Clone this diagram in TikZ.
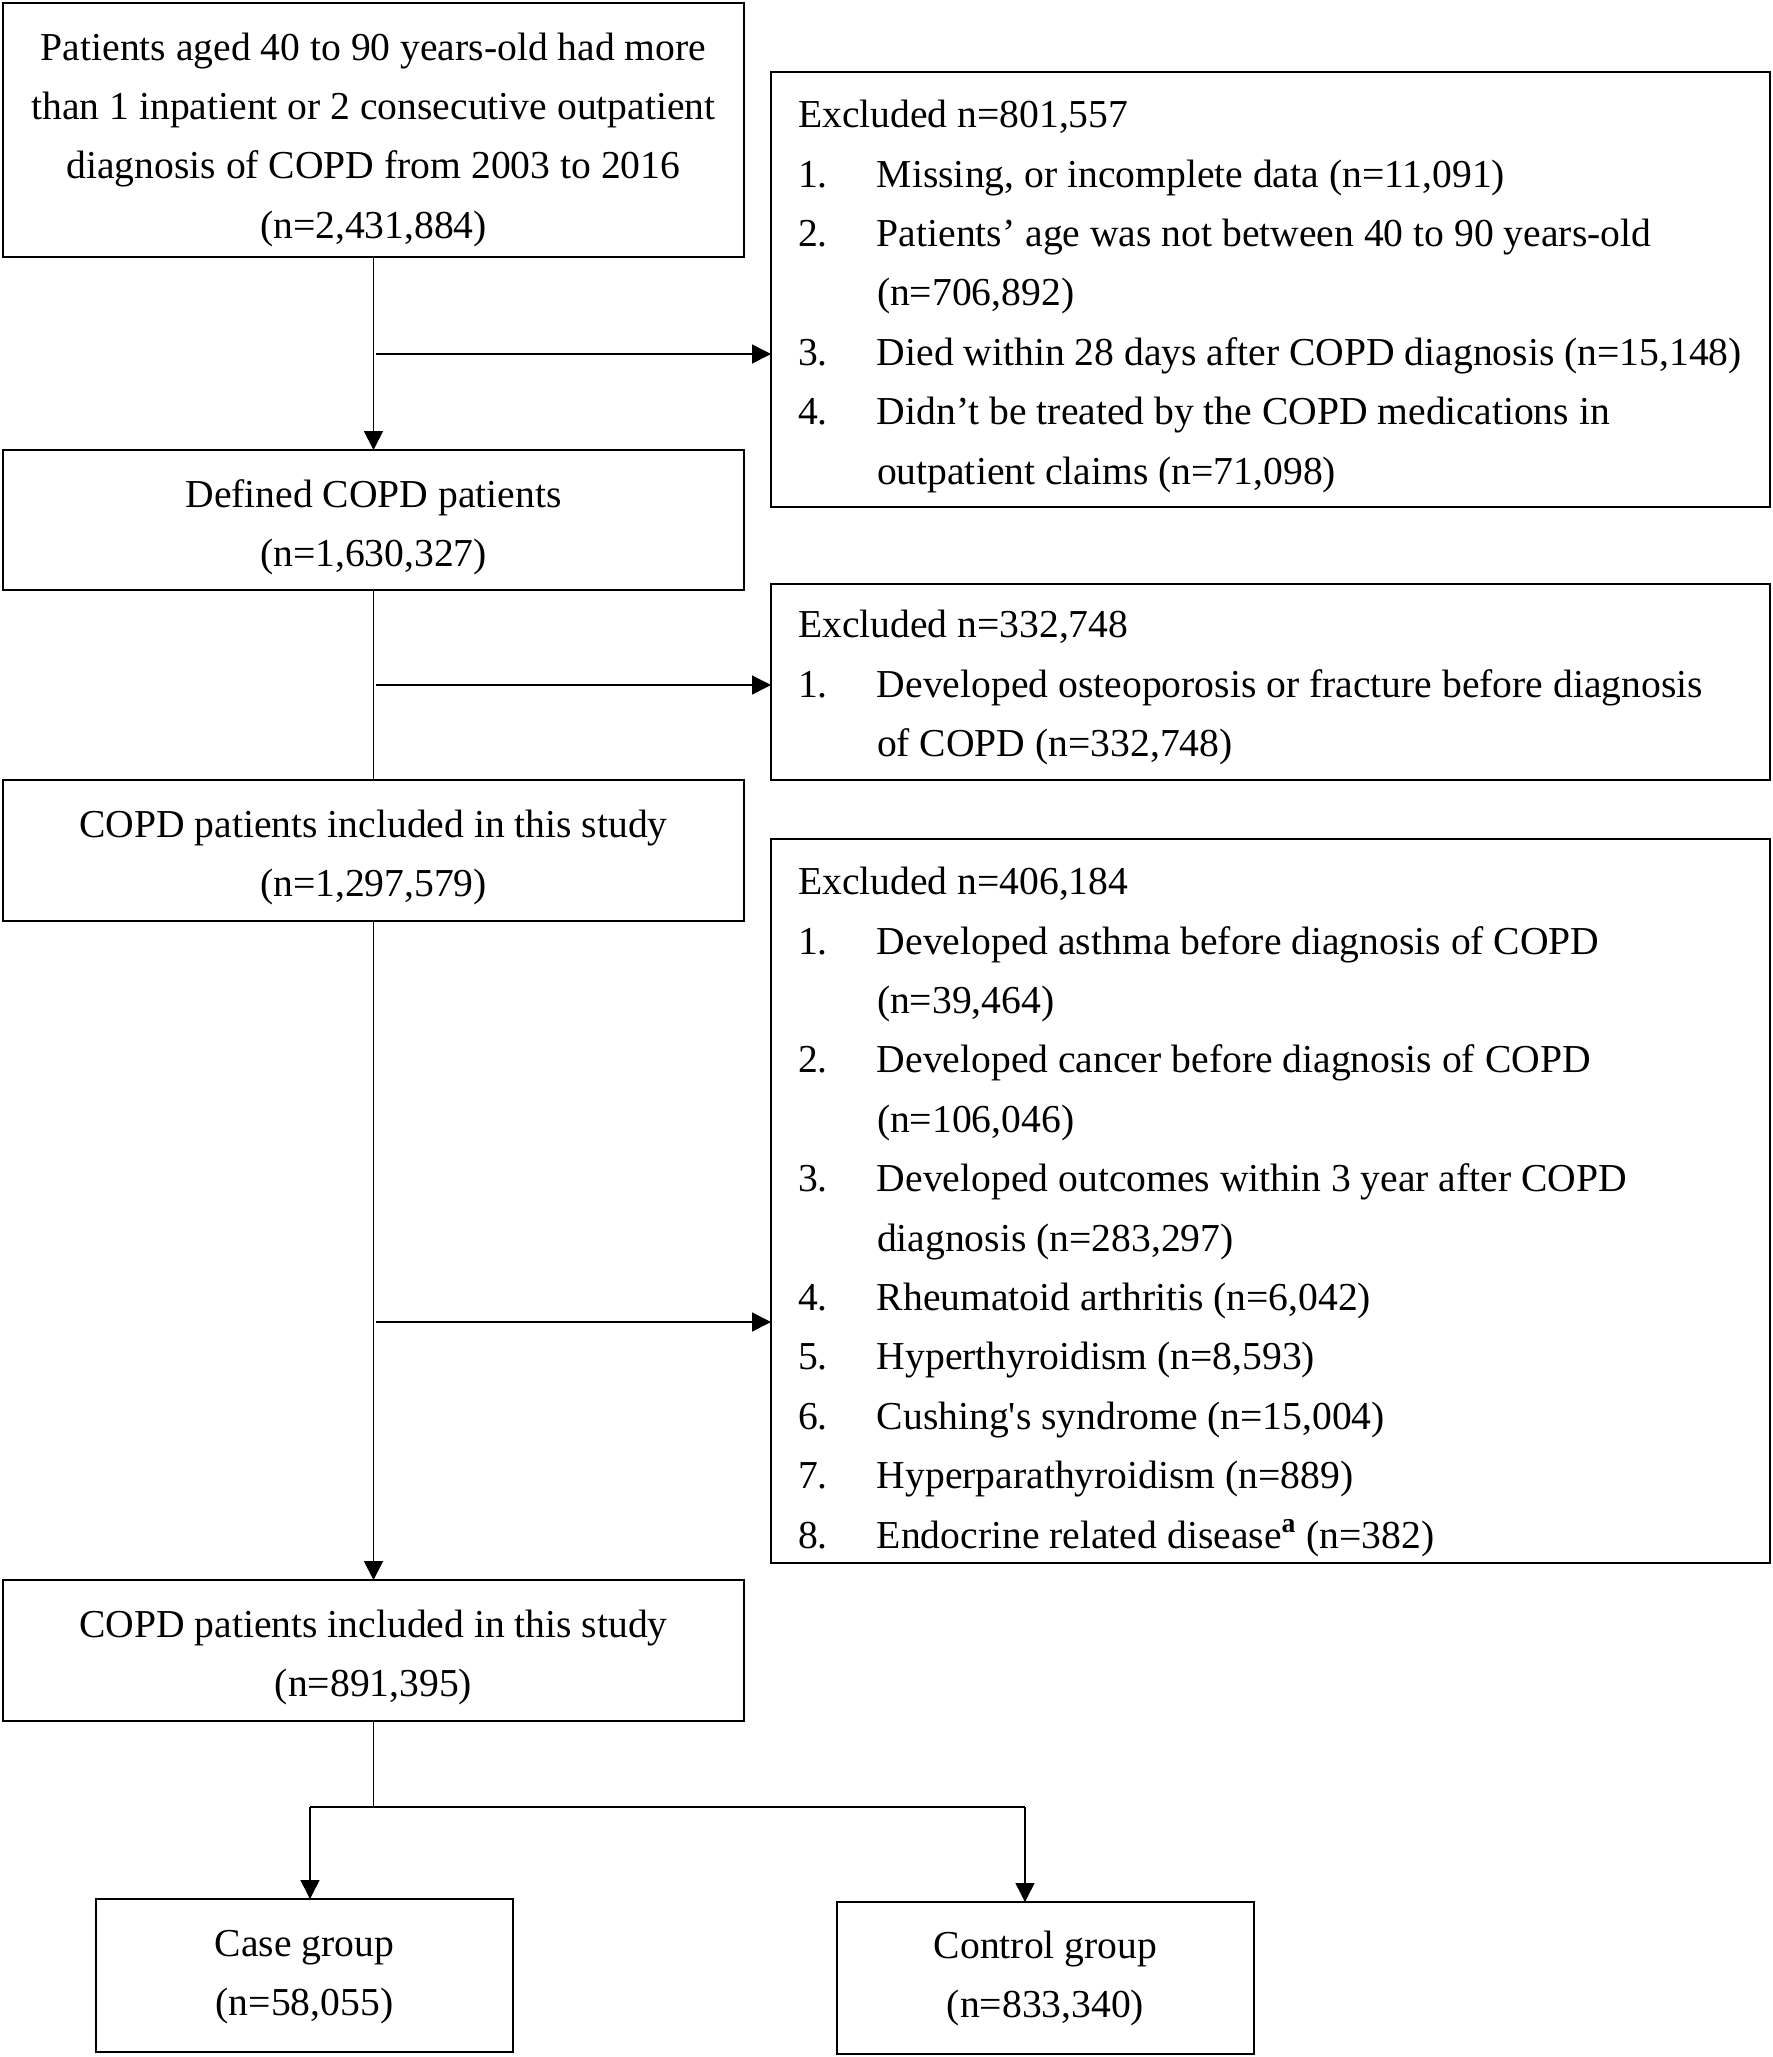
\documentclass[tikz,border=0pt]{standalone}
\usepackage{fontspec}
\setmainfont{Liberation Serif}[Ligatures=TeXOff]
\usetikzlibrary{arrows.meta}
\newcommand\exitem[1]{\makebox[39.5pt][l]{#1}}
\newcommand\excont{\hspace*{39.5pt}}
\begin{document}
\begin{tikzpicture}[x=0.5pt,y=-0.5pt,
  box/.style={draw, line width=1.15pt, inner sep=0pt, outer sep=0pt},
  txt/.style={inner sep=0pt, outer sep=0pt, font=\fontsize{19.8}{29.7}\selectfont},
  ctxt/.style={txt, align=center, anchor=base},
  ltxt/.style={txt, align=left, anchor=base west},
  link/.style={line width=0.95pt},
  thinlink/.style={line width=0.7pt},
  tip/.style={-{Triangle[length=9.5pt,width=9.5pt]}},
  arr/.style={link, tip},
  thinarr/.style={thinlink, tip}]
\useasboundingbox (0,0) rectangle (1773,2057);

% main boxes
\node[box, minimum width=370.5pt, minimum height=127pt] (b1) at (373.5,130) {};
\node[box, minimum width=370.5pt, minimum height=70pt] (b2) at (373.5,520) {};
\node[box, minimum width=370.5pt, minimum height=70.5pt] (b3) at (373.5,850.5) {};
\node[box, minimum width=370.5pt, minimum height=70.5pt] (b4) at (373.5,1650.5) {};
\node[box, minimum width=208.5pt, minimum height=76.5pt] (case) at (304.5,1975.5) {};
\node[box, minimum width=208.5pt, minimum height=76pt] (ctrl) at (1045.5,1978) {};

% exclusion boxes
\node[box, minimum width=499.5pt, minimum height=217.5pt] (e1) at (1270.5,289.5) {};
\node[box, minimum width=499.5pt, minimum height=98pt] (e2) at (1270.5,682) {};
\node[box, minimum width=499.5pt, minimum height=362pt] (e3) at (1270.5,1201) {};

% texts of main boxes (anchored at the baseline of their last line)
\node[ctxt] (b1t) at (373.5,238.2) {Patients aged 40 to 90 years-old had more\\than 1 inpatient or 2 consecutive outpatient\\diagnosis of COPD from 2003 to 2016\\(n=2,431,884)};
\node[ctxt] (b2t) at (373.5,566.4) {Defined COPD patients\\(n=1,630,327)};
\node[ctxt] (b3t) at (373.5,896.4) {COPD patients included in this study\\(n=1,297,579)};
\node[ctxt] (b4t) at (373.5,1696.4) {COPD patients included in this study\\(n=891,395)};
\node[ctxt] (caset) at (304.5,2015.4) {Case group\\(n=58,055)};
\node[ctxt] (ctrlt) at (1045.5,2017.4) {Control group\\(n=833,340)};

% texts of exclusion boxes
\node[ltxt] (e1t) at (798,484) {Excluded n=801,557\\
\exitem{1.}Missing, or incomplete data (n=11,091)\\
\exitem{2.}Patients’ age was not between 40 to 90 years-old\\
\excont(n=706,892)\\
\exitem{3.}Died within 28 days after COPD diagnosis (n=15,148)\\
\exitem{4.}Didn’t be treated by the COPD medications in\\
\excont outpatient claims (n=71,098)};

\node[ltxt] (e2t) at (798,756.5) {Excluded n=332,748\\
\exitem{1.}Developed osteoporosis or fracture before diagnosis\\
\excont of COPD (n=332,748)};

\node[ltxt] (e3t) at (798,1548) {Excluded n=406,184\\
\exitem{1.}Developed asthma before diagnosis of COPD\\
\excont(n=39,464)\\
\exitem{2.}Developed cancer before diagnosis of COPD\\
\excont(n=106,046)\\
\exitem{3.}Developed outcomes within 3 year after COPD\\
\excont diagnosis (n=283,297)\\
\exitem{4.}Rheumatoid arthritis (n=6,042)\\
\exitem{5.}Hyperthyroidism (n=8,593)\\
\exitem{6.}Cushing's syndrome (n=15,004)\\
\exitem{7.}Hyperparathyroidism (n=889)\\
\exitem{8.}Endocrine related disease\textsuperscript{\textbf{a}} (n=382)};

% connectors
\coordinate (j1) at (376,354);
\coordinate (j2) at (376,685);
\coordinate (j3) at (376,1322);
\coordinate (sp) at (373.5,1807);
\coordinate (sl) at (310,1807);
\coordinate (sr) at (1025,1807);

\draw[arr] (b1.south) -- (b2.north);
\draw[thinarr] (j1) -- (j1 -| e1.west);
\draw[link] (b2.south) -- (b3.north);
\draw[thinarr] (j2) -- (j2 -| e2.west);
\draw[arr] (b3.south) -- (b4.north);
\draw[thinarr] (j3) -- (j3 -| e3.west);
\draw[link] (b4.south) -- (sp);
\draw[link] (sl) -- (sr);
\draw[thinarr] (sl) -- (sl |- case.north);
\draw[thinarr] (sr) -- (sr |- ctrl.north);
\end{tikzpicture}
\end{document}
